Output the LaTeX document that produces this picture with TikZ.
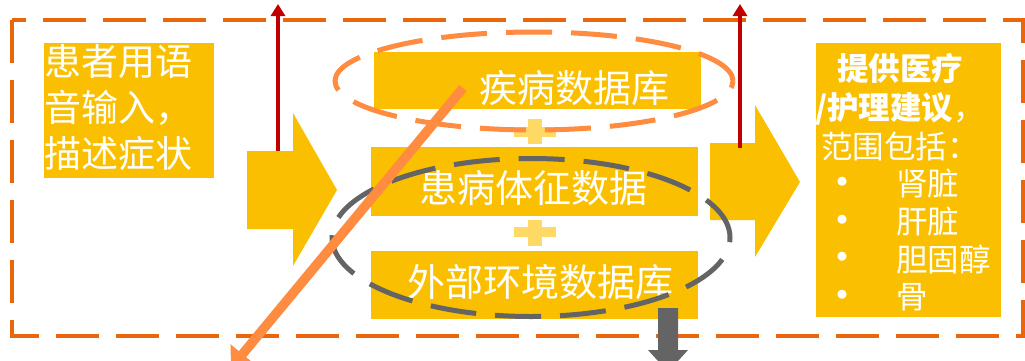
\documentclass[tikz,border=0pt]{standalone}
\usepackage{fontspec}
\setmainfont{Noto Sans CJK SC}
\usetikzlibrary{arrows.meta}
\definecolor{gold}{RGB}{250,192,0}
\definecolor{borderorange}{RGB}{234,102,10}
\definecolor{lightorange}{RGB}{255,140,64}
\definecolor{plusyellow}{RGB}{255,217,102}
\definecolor{darkgray}{RGB}{100,100,100}
\definecolor{darkred}{RGB}{192,0,0}
\tikzset{
  border/.style={draw=borderorange, line width=4pt, dash pattern=on 43pt off 17pt},
  goldbox/.style={fill=gold, draw=none, inner sep=0pt},
  wtext/.style={text=white, inner sep=0pt},
  ell1/.style={draw=lightorange, line width=5pt, dash pattern=on 46pt off 19pt},
  ell2/.style={draw=darkgray, line width=5pt, dash pattern=on 46pt off 19pt},
  redarrow/.style={draw=darkred, line width=4.5pt, -{Triangle[length=12pt,width=14pt]}},
  diag/.style={draw=lightorange, line width=9.5pt, -{Triangle[length=18pt,width=30pt]}},
  bulletdot/.style={text=white, inner sep=0pt, font=\fontsize{10pt}{10pt}\selectfont},
}
\begin{document}
\begin{tikzpicture}[x=1pt,y=-1pt]
\useasboundingbox (0,0) rectangle (1025,360);
\clip (0,0) rectangle (1025,360);
\fill[white] (0,0) rectangle (1025,360);

% dashed frame
\draw[border] (12,20) rectangle (1023,336);

% left input box
\node[goldbox, minimum width=170pt, minimum height=135pt] (input) at (129,110.5) {};
\node[wtext, anchor=north west, align=left, font=\fontsize{37pt}{46pt}\selectfont] (inputtxt) at (44,44) {患者用语\\音输入，\\描述症状};

% big arrows
\fill[gold] (247,151) -- (293,151) -- (293,113) -- (337,190) -- (293,266) -- (293,229) -- (247,229) -- cycle;
\coordinate (a1top) at (278,151);
\fill[gold] (710,143) -- (755,143) -- (755,105) -- (800,182) -- (755,257) -- (755,220) -- (710,220) -- cycle;
\coordinate (a2top) at (740,148);

% database boxes
\node[goldbox, minimum width=327pt, minimum height=57pt] (db1) at (537.5,80.5) {};
\node[wtext, font=\fontsize{38pt}{40pt}\selectfont] (db1txt) at (574,88) {疾病数据库};
\node[goldbox, minimum width=327pt, minimum height=69pt] (db2) at (534.5,181.5) {};
\node[wtext, font=\fontsize{38pt}{40pt}\selectfont] (db2txt) at (533,188) {患病体征数据};
\node[goldbox, minimum width=327pt, minimum height=68pt] (db3) at (534.5,285) {};
\node[wtext, font=\fontsize{38pt}{40pt}\selectfont] (db3txt) at (540,282) {外部环境数据库};

% plus signs
\fill[plusyellow] (514,127) rectangle (556,137);
\fill[plusyellow] (528,119) rectangle (542,144);
\fill[plusyellow] (514,227) rectangle (556,237);
\fill[plusyellow] (528,220) rectangle (542,246);

% ellipses
\draw[ell1] (534,81) ellipse [x radius=199pt, y radius=49pt];
\draw[ell2] (531,237.5) ellipse [x radius=199pt, y radius=79pt];

% right output box
\node[goldbox, minimum width=185pt, minimum height=274pt] (output) at (908.5,180) {};
\node[wtext, align=center, font=\fontsize{31.5pt}{39pt}\selectfont] (outhead) at (900,107) {\textbf{提供医疗}\\\textbf{/护理建议}，\\范围包括：};
\foreach \yy/\tt [count=\i] in {184/肾脏,222/肝脏,259/胆固醇,297/骨}{
  \node[bulletdot] (bul\i) at (842,\yy-2) {●};
  \node[wtext, anchor=west, font=\fontsize{31.5pt}{39pt}\selectfont] (item\i) at (896,\yy) {\tt};
}

% gray down arrow
\fill[darkgray] (658,308) -- (678,308) -- (678,350) -- (688,350) -- (668,372) -- (648,350) -- (658,350) -- cycle;

% diagonal orange arrow
\coordinate (dstart) at (463,88);
\coordinate (dend) at (231,368);
\draw[diag] (dstart) -- (dend);

% red arrows
\coordinate (r1) at (278,4);
\coordinate (r2) at (740,4);
\draw[redarrow] (a1top) -- (r1);
\draw[redarrow] (a2top) -- (r2);
\end{tikzpicture}
\end{document}
